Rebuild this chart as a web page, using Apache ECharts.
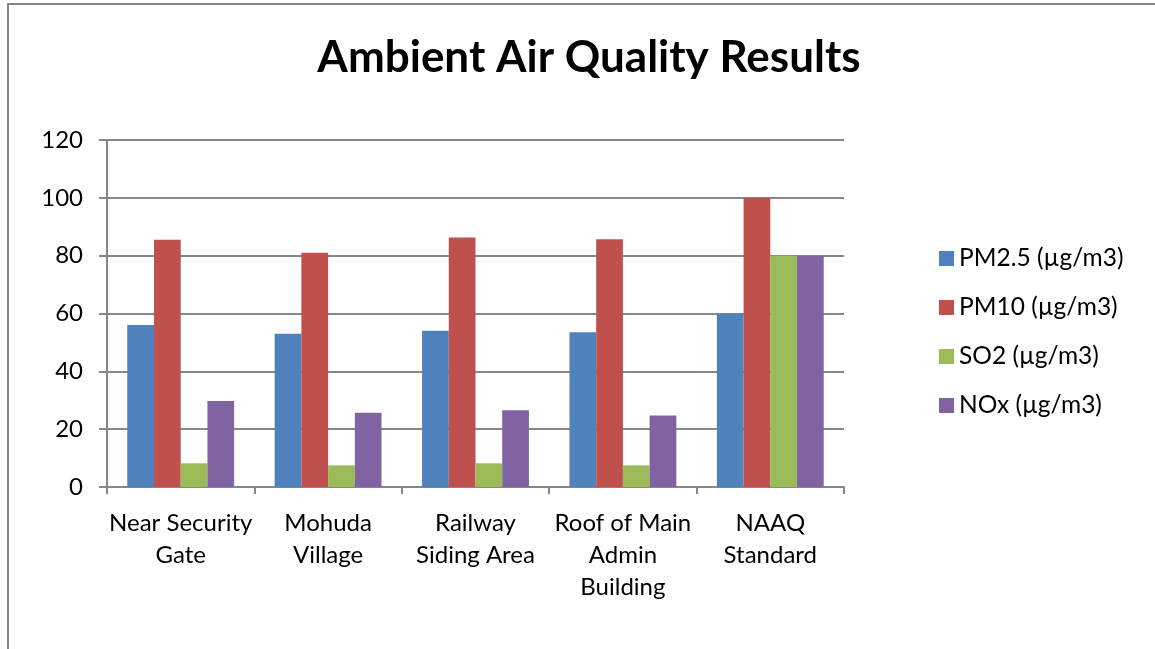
<!DOCTYPE html>
<html>
<head>
<meta charset="utf-8">
<script src="https://cdn.jsdelivr.net/npm/echarts@6/dist/echarts.min.js"></script>
<style>
  html, body { margin: 0; padding: 0; background: #fff; }
  #chart { width: 1155px; height: 649px; }
</style>
</head>
<body>
<div id="chart"></div>
<script>
const categories = [
  'Near Security\nGate',
  'Mohuda\nVillage',
  'Railway\nSiding Area',
  'Roof of Main\nAdmin\nBuilding',
  'NAAQ\nStandard'
]
const pm25 = [56, 53, 54, 53.5, 60]
const pm10 = [85.5, 81, 86.3, 85.7, 100]
const so2 = [8.2, 7.5, 8.2, 7.5, 80]
const nox = [29.7, 25.7, 26.5, 24.7, 80]
const yTicks = [0, 20, 40, 60, 80, 100, 120]

const seriesNames = ['PM2.5 (µg/m3)', 'PM10 (µg/m3)', 'SO2 (µg/m3)', 'NOx (µg/m3)']
const colors = ['#4F81BD', '#C0504D', '#9BBB59', '#8064A2']
const gridColor = '#878787'
const font = 'Lato, Carlito, "Open Sans", sans-serif'

const chart = echarts.init(document.getElementById('chart'))

const makeBar = (name, data, color) => ({
  name,
  type: 'bar',
  data,
  barGap: '0%',
  barCategoryGap: '27.5%',
  itemStyle: { color },
  emphasis: { disabled: true }
})

chart.setOption({
  animation: false,
  backgroundColor: '#fff',
  textStyle: { fontFamily: font },
  graphic: [{
    type: 'rect',
    shape: { x: 8, y: 4, width: 1200, height: 700 },
    style: { fill: 'none', stroke: gridColor, lineWidth: 2 },
    silent: true
  }],
  title: {
    text: 'Ambient Air Quality Results',
    left: 584,
    textAlign: 'center',
    top: 31,
    textStyle: { fontFamily: font, fontSize: 44, fontWeight: 'bold', color: '#000' }
  },
  legend: {
    orient: 'vertical',
    left: 934,
    top: 241,
    itemWidth: 15,
    itemHeight: 15,
    itemGap: 24,
    icon: 'rect',
    data: seriesNames,
    textStyle: { fontFamily: font, fontSize: 24.5, lineHeight: 24, color: '#000' }
  },
  grid: { left: 107, right: 311, top: 140, bottom: 162, containLabel: false },
  xAxis: {
    type: 'category',
    data: categories,
    axisLine: { lineStyle: { color: gridColor, width: 2 } },
    axisTick: { show: true, length: 7, lineStyle: { color: gridColor, width: 2 } },
    axisLabel: { fontFamily: font, fontSize: 24, lineHeight: 32, color: '#000', margin: 20, interval: 0 }
  },
  yAxis: {
    type: 'value',
    min: 0,
    max: yTicks[yTicks.length - 1],
    interval: yTicks[1] - yTicks[0],
    axisLine: { show: true, lineStyle: { color: gridColor, width: 2 } },
    axisTick: { show: true, length: 8, lineStyle: { color: gridColor, width: 2 } },
    axisLabel: { fontFamily: font, fontSize: 24, color: '#000', margin: 24 },
    splitLine: { lineStyle: { color: gridColor, width: 2 } }
  },
  series: [
    makeBar(seriesNames[0], pm25, colors[0]),
    makeBar(seriesNames[1], pm10, colors[1]),
    makeBar(seriesNames[2], so2, colors[2]),
    makeBar(seriesNames[3], nox, colors[3])
  ]
})
</script>
</body>
</html>
